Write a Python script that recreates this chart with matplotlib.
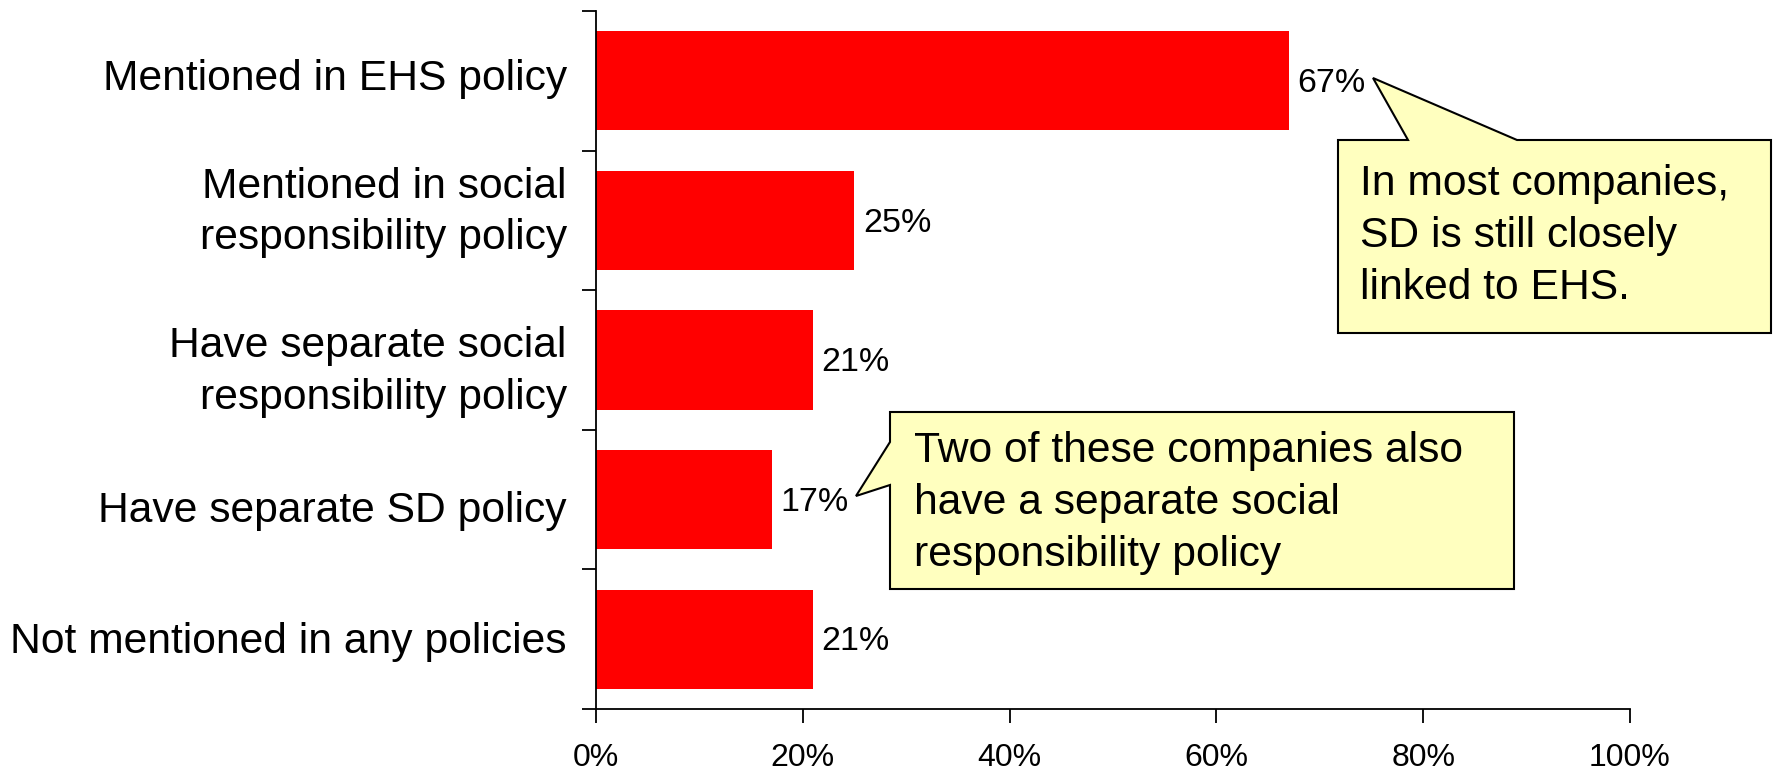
import matplotlib.pyplot as plt
from matplotlib.patches import Polygon
from matplotlib.ticker import FixedLocator, PercentFormatter
from matplotlib.transforms import ScaledTranslation

plt.rcParams['font.family'] = ['Liberation Sans', 'DejaVu Sans']

categories = [
    "Mentioned in EHS policy",
    "Mentioned in social\nresponsibility policy",
    "Have separate social\nresponsibility policy",
    "Have separate SD policy",
    "Not mentioned in any policies",
]
shares = [67, 25, 21, 17, 21]
xticks = [0, 20, 40, 60, 80, 100]

note_ehs = "In most companies,\nSD is still closely\nlinked to EHS."
note_sd = "Two of these companies also\nhave a separate social\nresponsibility policy"

W, H = 1774, 772
fig = plt.figure(figsize=(W / 100, H / 100), dpi=100)
ax = fig.add_axes([596 / W, 1 - 709 / H, (1630 - 596) / W, (709 - 11) / H])

pos = list(range(len(categories)))
ax.barh(pos, shares, height=0.71, color="#ff0000", zorder=2)
ax.set_ylim(len(categories) - 0.5, -0.5)
ax.set_xlim(0, 100)

for y, v in zip(pos, shares):
    ax.text(v + 0.8, y + 0.02, f"{v}%", va="center", ha="left", fontsize=24.5)

# category labels sit between the boundary ticks
ax.set_yticks(pos)
ax.set_yticklabels(categories, fontsize=30.7, linespacing=1.36)
ax.tick_params(axis="y", which="major", length=0, pad=21)
ax.yaxis.set_minor_locator(FixedLocator([p - 0.5 for p in pos] + [pos[-1] + 0.5]))
ax.tick_params(axis="y", which="minor", length=10, width=1.3, direction="out")

# small vertical nudges (points) for the category labels
nudge = [4.3, 13, -1.4, -5, 1.4]
for lab, dy in zip(ax.get_yticklabels(), nudge):
    lab.set_transform(lab.get_transform() + ScaledTranslation(0, dy / 72, fig.dpi_scale_trans))

ax.set_xticks(xticks)
ax.xaxis.set_major_formatter(PercentFormatter(decimals=0))
ax.tick_params(axis="x", length=10, width=1.3, direction="out", pad=14.5, labelsize=23)

for s in ("top", "right"):
    ax.spines[s].set_visible(False)
for s in ("left", "bottom"):
    ax.spines[s].set_linewidth(1.3)


def callout(verts, text, tx, ty):
    pts = [(x / W, 1 - y / H) for x, y in verts]
    fig.add_artist(Polygon(pts, closed=True, facecolor="#ffffbf", edgecolor="black",
                           linewidth=1.5, transform=fig.transFigure, zorder=5))
    fig.text(tx / W, 1 - ty / H, text, fontsize=30.7, linespacing=1.38,
             ha="left", va="top", zorder=6)


callout([(1338, 140), (1408, 140), (1373, 78), (1517, 140), (1771, 140),
         (1771, 333), (1338, 333)], note_ehs, 1360, 164)
callout([(890, 412), (1514, 412), (1514, 589), (890, 589), (890, 485),
         (856, 496), (890, 442)], note_sd, 914, 431)

fig.savefig("out.png", dpi=100)
